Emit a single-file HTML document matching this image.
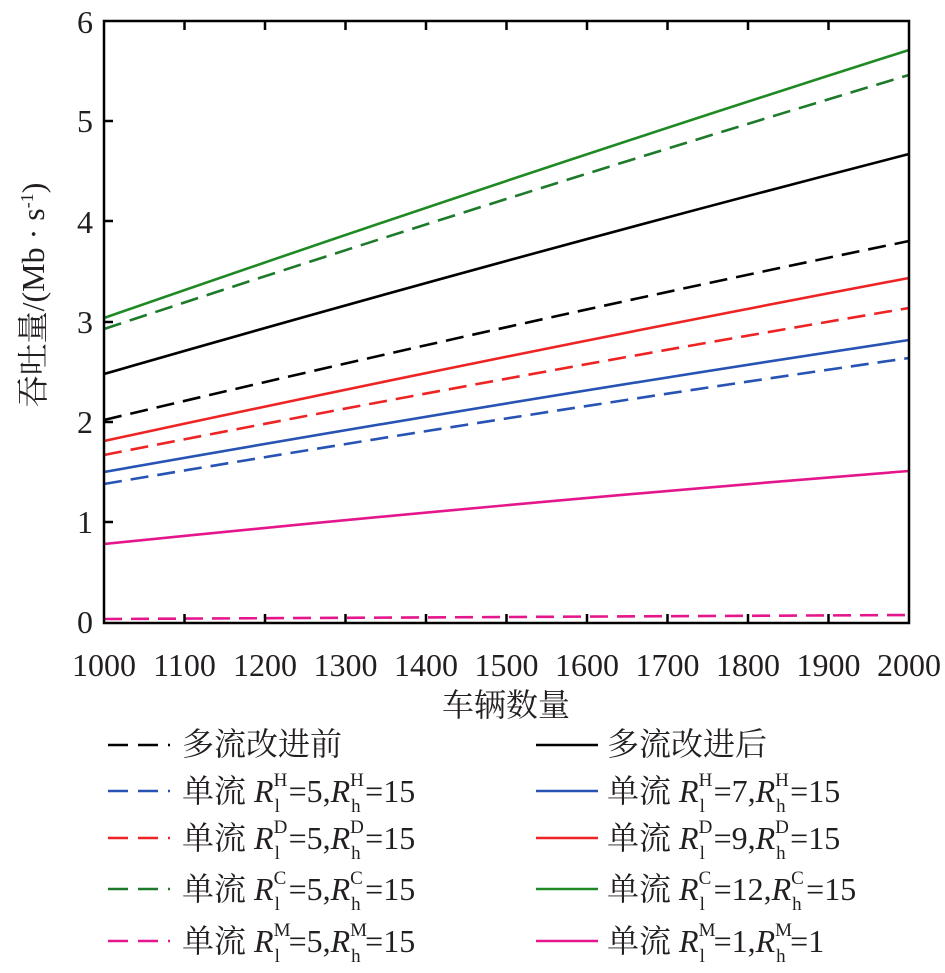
<!DOCTYPE html>
<html><head><meta charset="utf-8"><style>
body{margin:0;width:945px;height:973px;background:#fff;position:relative;overflow:hidden;font-family:"Liberation Serif","Noto Serif CJK SC",serif;color:#231f20}
.t{position:absolute;white-space:nowrap;font-size:32px;line-height:36px}
.ss{display:inline-block;vertical-align:middle;position:relative;width:15px;height:36px;font-size:19px;font-style:normal}
.ss .u{position:absolute;left:0;top:-6px;line-height:20px}
.ss .d{position:absolute;left:1px;top:20px;line-height:20px}
i{font-style:italic}
</style></head><body>
<svg width="945" height="973" style="position:absolute;left:0;top:0">
<g fill="none" stroke-width="2.6">
<path d="M104 420 Q506 324 909 241" stroke="#000" stroke-dasharray="18,9"/>
<path d="M104 374 Q506 258 909 154" stroke="#000"/>
<path d="M104 484 Q506 416 909 358" stroke="#2653b4" stroke-dasharray="18,9"/>
<path d="M104 472 Q506 401 909 340" stroke="#2653b4"/>
<path d="M104 455 Q506 376 909 308" stroke="#ee2424" stroke-dasharray="18,9"/>
<path d="M104 441 Q506 354 909 278" stroke="#ee2424"/>
<path d="M104 329 Q506 196 909 75" stroke="#1d7a2a" stroke-dasharray="18,9"/>
<path d="M104 318 Q506 178 909 50" stroke="#1f8a24"/>
<path d="M104 619 L909 615" stroke="#e5168c" stroke-dasharray="18,9"/>
<path d="M104 544 Q506 503 909 471" stroke="#e5168c"/>
</g>
<rect x="104" y="21" width="805" height="602" fill="none" stroke="#000" stroke-width="2.5"/>
<g stroke="#000" stroke-width="2.5">
<path d="M104 121h9M104 221h9M104 322h9M104 422h9M104 522h9"/>
<path d="M184.5 21v9M265 21v9M345.5 21v9M426 21v9M506.5 21v9M587 21v9M667.5 21v9M748 21v9M828.5 21v9"/>
<path d="M184.5 623v-9M265 623v-9M345.5 623v-9M426 623v-9M506.5 623v-9M587 623v-9M667.5 623v-9M748 623v-9M828.5 623v-9"/>
</g>
<g font-family="Liberation Serif,serif" font-size="32" fill="#231f20" text-anchor="end">
<text x="93" y="33">6</text><text x="93" y="132">5</text><text x="93" y="233">4</text><text x="93" y="333">3</text><text x="93" y="433">2</text><text x="93" y="533">1</text><text x="93" y="633">0</text>
</g>
<g font-family="Liberation Serif,serif" font-size="32" fill="#231f20" text-anchor="middle">
<text x="104" y="676">1000</text><text x="184.5" y="676">1100</text><text x="265" y="676">1200</text><text x="345.5" y="676">1300</text><text x="426" y="676">1400</text><text x="506.5" y="676">1500</text><text x="587" y="676">1600</text><text x="667.5" y="676">1700</text><text x="748" y="676">1800</text><text x="828.5" y="676">1900</text><text x="909" y="676">2000</text>
<text x="506" y="716" font-family="Liberation Serif,Noto Serif CJK SC,serif">车辆数量</text>
<text transform="translate(44,295) rotate(-90)" font-family="Liberation Serif,Noto Serif CJK SC,serif">吞吐量/(Mb · s<tspan dy="-11" font-size="18">-1</tspan><tspan dy="11">)</tspan></text>
</g>
<g stroke-width="2.6" stroke-dasharray="20,10">
<path d="M108 745h62" stroke="#000"/>
<path d="M108 791h62" stroke="#2653b4"/>
<path d="M108 838h62" stroke="#ee2424"/>
<path d="M108 889h62" stroke="#1d7a2a"/>
<path d="M108 941h62" stroke="#e5168c"/>
</g>
<g stroke-width="2.6">
<path d="M536 745h62" stroke="#000"/>
<path d="M536 791h62" stroke="#2653b4"/>
<path d="M536 838h62" stroke="#ee2424"/>
<path d="M536 889h62" stroke="#1f8a24"/>
<path d="M536 941h62" stroke="#e5168c"/>
</g>
</svg>
<div class="t" style="left:182px;top:726px">多流改进前</div>
<div class="t" style="left:607px;top:726px">多流改进后</div>
<div class="t" style="left:182px;top:773px">单流 <i>R</i><span class="ss"><span class="u">H</span><span class="d">l</span></span>=5,<i>R</i><span class="ss"><span class="u">H</span><span class="d">h</span></span>=15</div>
<div class="t" style="left:607px;top:773px">单流 <i>R</i><span class="ss"><span class="u">H</span><span class="d">l</span></span>=7,<i>R</i><span class="ss"><span class="u">H</span><span class="d">h</span></span>=15</div>
<div class="t" style="left:182px;top:820px">单流 <i>R</i><span class="ss"><span class="u">D</span><span class="d">l</span></span>=5,<i>R</i><span class="ss"><span class="u">D</span><span class="d">h</span></span>=15</div>
<div class="t" style="left:607px;top:820px">单流 <i>R</i><span class="ss"><span class="u">D</span><span class="d">l</span></span>=9,<i>R</i><span class="ss"><span class="u">D</span><span class="d">h</span></span>=15</div>
<div class="t" style="left:182px;top:871px">单流 <i>R</i><span class="ss"><span class="u">C</span><span class="d">l</span></span>=5,<i>R</i><span class="ss"><span class="u">C</span><span class="d">h</span></span>=15</div>
<div class="t" style="left:607px;top:871px">单流 <i>R</i><span class="ss"><span class="u">C</span><span class="d">l</span></span>=12,<i>R</i><span class="ss"><span class="u">C</span><span class="d">h</span></span>=15</div>
<div class="t" style="left:182px;top:923px">单流 <i>R</i><span class="ss"><span class="u">M</span><span class="d">l</span></span>=5,<i>R</i><span class="ss"><span class="u">M</span><span class="d">h</span></span>=15</div>
<div class="t" style="left:607px;top:923px">单流 <i>R</i><span class="ss"><span class="u">M</span><span class="d">l</span></span>=1,<i>R</i><span class="ss"><span class="u">M</span><span class="d">h</span></span>=1</div>
</body></html>
